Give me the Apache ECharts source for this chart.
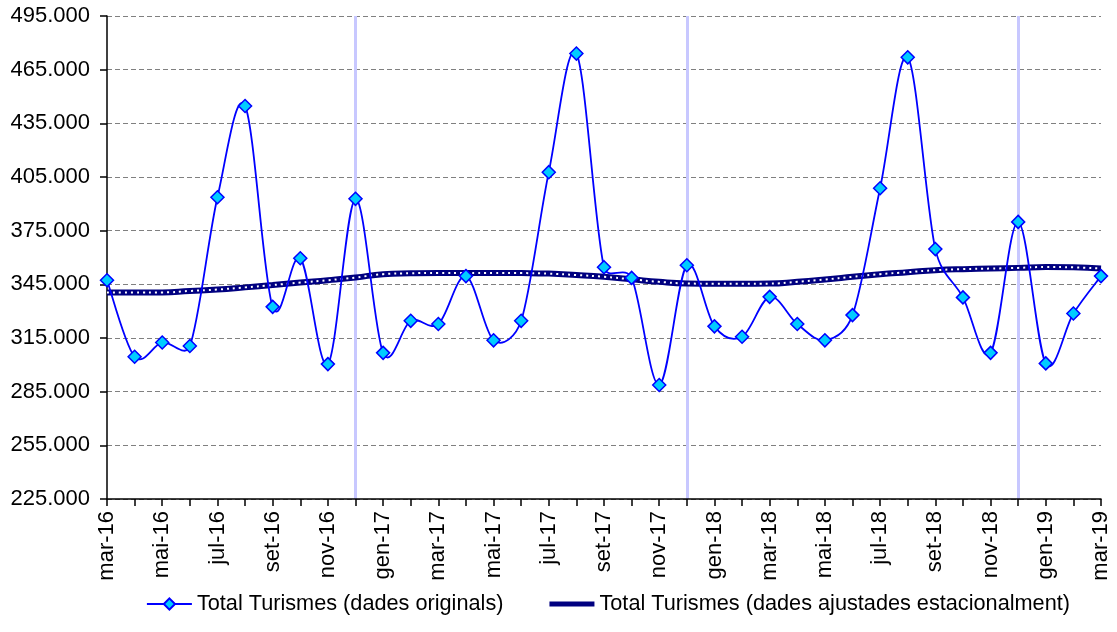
<!DOCTYPE html>
<html>
<head>
<meta charset="utf-8">
<script src="https://cdn.jsdelivr.net/npm/echarts@6/dist/echarts.min.js"></script>
<style>
html,body{margin:0;padding:0;background:#fff;}
#chart{width:1117px;height:632px;}
</style>
</head>
<body>
<div id="chart"></div>
<script>
var categories = ['mar-16','abr-16','mai-16','jun-16','jul-16','ago-16','set-16','oct-16','nov-16','des-16',
  'gen-17','feb-17','mar-17','abr-17','mai-17','jun-17','jul-17','ago-17','set-17','oct-17','nov-17','des-17',
  'gen-18','feb-18','mar-18','abr-18','mai-18','jun-18','jul-18','ago-18','set-18','oct-18','nov-18','des-18',
  'gen-19','feb-19','mar-19'];
var originals = [347300,304500,312500,310500,393700,444700,332400,359600,300400,392800,
  306700,324600,322800,349600,313700,324600,407700,474000,354600,348600,288700,355700,
  321500,315700,338000,322800,313700,327800,398700,471900,364700,337700,306700,379900,
  300800,328700,349600];
var ajustades = [340500,340500,340500,341300,342100,343300,344600,346000,347300,348800,
  350700,351200,351400,351400,351400,351300,351000,350200,349200,347800,346400,345500,
  345300,345300,345400,346400,347700,349200,350700,351800,352900,353500,353800,354200,
  354700,354500,353800];
var yearEnds = ['des-16','des-17','des-18'];
var yTicks = {min:225000, max:495000, interval:30000};
var nameOrig = 'Total Turismes (dades originals)';
var nameAdj = 'Total Turismes (dades ajustades estacionalment)';

function fmt(v){ return Math.round(v).toString().replace(/\B(?=(\d{3})+(?!\d))/g,'.'); }

// Spreadsheet-style smoothed curve through the values, positioned by the axes
function smoothPath(values, api){
  var p = values.map(function(v,i){ return api.coord([i, v]); });
  var n = p.length;
  function dist(a,b){ return Math.sqrt((a[0]-b[0])*(a[0]-b[0])+(a[1]-b[1])*(a[1]-b[1])); }
  var d = 'M' + p[0][0] + ',' + p[0][1];
  for (var i = 0; i < n-1; i++){
    var p0 = p[Math.max(i-1,0)], p1 = p[i], p2 = p[i+1], p3 = p[Math.min(i+2,n-1)];
    var l12 = dist(p1,p2), l02 = dist(p0,p2), l13 = dist(p1,p3);
    var f1 = l02 > 0 ? Math.min(1/6, 0.5*l12/l02) : 0;
    var f2 = l13 > 0 ? Math.min(1/6, 0.5*l12/l13) : 0;
    var c1x = p1[0] + (p2[0]-p0[0])*f1, c1y = p1[1] + (p2[1]-p0[1])*f1;
    var c2x = p2[0] - (p3[0]-p1[0])*f2, c2y = p2[1] - (p3[1]-p1[1])*f2;
    d += ' C' + c1x + ',' + c1y + ' ' + c2x + ',' + c2y + ' ' + p2[0] + ',' + p2[1];
  }
  return d;
}

var chart = echarts.init(document.getElementById('chart'));
var font = 'Liberation Sans, Arial, sans-serif';
chart.setOption({
  animation:false,
  backgroundColor:'#ffffff',
  textStyle:{fontFamily:font},
  grid:{left:107,right:16,top:16,bottom:133,containLabel:false},
  legend:{
    data:[{name:nameOrig,lineStyle:{opacity:1,width:1.8,color:'#0000FF'}},
          {name:nameAdj,icon:'path://M0,0 L54,0 L54,6 L0,6 Z',itemStyle:{color:'#000080'}}],
    bottom:12,left:141,
    itemWidth:45,itemHeight:14,itemGap:46,
    textStyle:{fontSize:21.7,color:'#000',fontFamily:font}
  },
  xAxis:{
    type:'category',data:categories,boundaryGap:false,
    axisLine:{lineStyle:{color:'#000',width:1.5}},
    axisTick:{show:true,interval:0,length:7,lineStyle:{color:'#000',width:1.5}},
    axisLabel:{interval:1,rotate:90,fontSize:22,color:'#000',margin:12,fontFamily:font},
    splitLine:{show:false}
  },
  yAxis:{
    type:'value',min:yTicks.min,max:yTicks.max,interval:yTicks.interval,
    axisLine:{show:true,lineStyle:{color:'#000',width:1.5}},
    axisTick:{show:true,length:7,lineStyle:{color:'#000',width:1.5}},
    axisLabel:{fontSize:22,color:'#000',margin:17,formatter:fmt,fontFamily:font},
    splitLine:{show:true,lineStyle:{color:'#808080',type:[5,3],width:1}}
  },
  series:[
    {
      name:'',type:'line',data:ajustades,
      symbol:'none',silent:true,z:0,
      lineStyle:{opacity:0},
      markLine:{
        silent:true,symbol:'none',label:{show:false},
        lineStyle:{color:'#C8C8FF',width:3,type:'solid',opacity:1},
        data:yearEnds.map(function(c){return {xAxis:c};}),
        z:0
      }
    },
    {
      name:nameAdj,type:'line',data:ajustades,smooth:0.5,
      symbol:'none',
      lineStyle:{color:'#000080',width:6},
      itemStyle:{color:'#000080'},
      z:2
    },
    {
      name:'',type:'line',data:ajustades,smooth:0.5,
      symbol:'none',silent:true,
      lineStyle:{color:'#ffffff',width:2,type:[2,4]},
      z:2
    },
    {
      name:'',type:'custom',silent:true,z:3,
      data:[[0, originals[0]]],
      encode:{x:0,y:1},
      renderItem:function(params, api){
        return {type:'path',shape:{pathData:smoothPath(originals, api)},
          style:{fill:'none',stroke:'#0000FF',lineWidth:1.8}};
      }
    },
    {
      name:nameOrig,type:'line',data:originals,
      symbol:'diamond',symbolSize:13,
      lineStyle:{color:'#0000FF',width:1.8,opacity:0},
      itemStyle:{color:'#00CCFF',borderColor:'#0000FF',borderWidth:1.5},
      z:4
    }
  ]
});
</script>
</body>
</html>
